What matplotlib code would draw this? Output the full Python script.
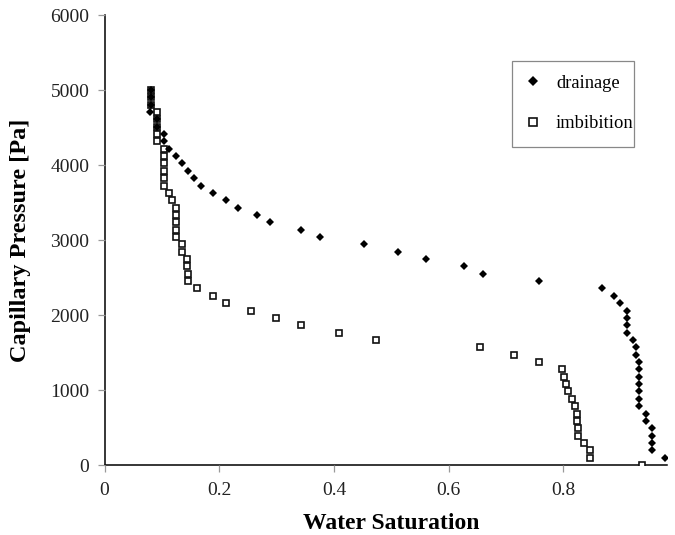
import matplotlib
matplotlib.use("Agg")
import matplotlib.pyplot as plt
from matplotlib.patches import Rectangle

plt.rcParams['font.family'] = ['Liberation Serif', 'DejaVu Serif']

# Drainage curve (water saturation, capillary pressure in Pa)
drain_sw = [0.080, 0.080, 0.080, 0.079, 0.092, 0.092, 0.104, 0.104, 0.113, 0.1245,
            0.135, 0.146, 0.156, 0.1675, 0.189, 0.211, 0.233, 0.266, 0.288, 0.342,
            0.375, 0.452, 0.511, 0.560, 0.627, 0.659, 0.7575, 0.867, 0.888, 0.899,
            0.910, 0.910, 0.910, 0.910, 0.921, 0.927, 0.927, 0.932, 0.932, 0.932,
            0.932, 0.932, 0.932, 0.932, 0.9435, 0.9435, 0.9545, 0.9545, 0.9545, 0.9545,
            0.9766]
drain_pc = [5002, 4904, 4805, 4707, 4609, 4511, 4413, 4315, 4217, 4119,
            4021, 3923, 3825, 3727, 3629, 3531, 3432, 3334, 3236, 3138,
            3040, 2942, 2844, 2746, 2648, 2550, 2452, 2354, 2256, 2158,
            2059, 1961, 1863, 1765, 1667, 1569, 1471, 1373, 1275, 1177,
            1079, 981, 883, 785, 686, 588, 490, 392, 294, 196,
            98]

# Imbibition curve
imb_sw = [0.080, 0.080, 0.080, 0.092, 0.092, 0.092, 0.092, 0.092, 0.1036, 0.1036,
          0.1036, 0.1036, 0.1036, 0.1036, 0.113, 0.1175, 0.1245, 0.1245, 0.1245, 0.1245,
          0.1245, 0.1355, 0.1355, 0.143, 0.143, 0.1455, 0.1455, 0.161, 0.189, 0.211,
          0.2547, 0.298, 0.342, 0.408, 0.474, 0.6546, 0.713, 0.7575, 0.7976, 0.8016,
          0.805, 0.8075, 0.8145, 0.8208, 0.823, 0.823, 0.825, 0.825, 0.8354, 0.846,
          0.846, 0.937]
imb_pc = [5002, 4904, 4805, 4707, 4609, 4511, 4413, 4315, 4217, 4119,
          4021, 3923, 3825, 3727, 3629, 3531, 3432, 3334, 3236, 3138,
          3040, 2942, 2844, 2746, 2648, 2550, 2452, 2354, 2256, 2158,
          2059, 1961, 1863, 1765, 1667, 1569, 1471, 1373, 1275, 1177,
          1079, 981, 883, 785, 686, 588, 490, 392, 294, 196,
          98, 0]

x_ticks = [0, 0.2, 0.4, 0.6, 0.8]
x_ticklabels = ['0', '0.2', '0.4', '0.6', '0.8']
y_ticks = [0, 1000, 2000, 3000, 4000, 5000, 6000]

fig = plt.figure(figsize=(6.75, 5.35), dpi=100)
ax = fig.add_axes([0.155, 0.1308, 0.8327, 0.8411])

ax.plot(drain_sw, drain_pc, linestyle='none', marker='D', markersize=4.2,
        color='black', markeredgewidth=0, label='drainage', zorder=3)
ax.plot(imb_sw, imb_pc, linestyle='none', marker='s', markersize=4.0,
        markerfacecolor='white', markeredgecolor='#111111', markeredgewidth=1.2,
        label='imbibition', zorder=2)

ax.set_xlim(0, 0.98)
ax.set_ylim(0, 6000)
ax.set_xticks(x_ticks)
ax.set_xticklabels(x_ticklabels)
ax.set_yticks(y_ticks)

for side in ['top', 'right']:
    ax.spines[side].set_visible(False)
for side in ['left', 'bottom']:
    ax.spines[side].set_color('black')
    ax.spines[side].set_linewidth(1.1)
    ax.spines[side].set_zorder(1)

ax.tick_params(axis='both', direction='out', length=5, width=0.9,
               color='#999999', labelsize=14, labelcolor='#222222')
ax.tick_params(axis='x', pad=7)
ax.tick_params(axis='y', pad=6)

ax.set_xlabel('Water Saturation', fontsize=17, fontweight='bold', labelpad=10.5)
ax.xaxis.label.set_x(0.51)
ax.set_ylabel('Capillary Pressure [Pa]', fontsize=17.5, fontweight='bold', labelpad=14)

# legend frame drawn as a plain rectangle, entries placed inside it
ax.add_patch(Rectangle((0.7255, 0.7073), 0.2165, 0.1911, transform=ax.transAxes,
                       facecolor='white', edgecolor='#888888', linewidth=0.9,
                       zorder=4, clip_on=False))
leg = ax.legend(loc='center left', bbox_to_anchor=(0.7455, 0.803), borderaxespad=0,
                fontsize=13.3, numpoints=1, labelspacing=1.27, handlelength=1.0,
                handletextpad=0.75, borderpad=0, frameon=False, markerscale=1.3)
leg.set_zorder(5)

fig.savefig('out.png', dpi=100)
